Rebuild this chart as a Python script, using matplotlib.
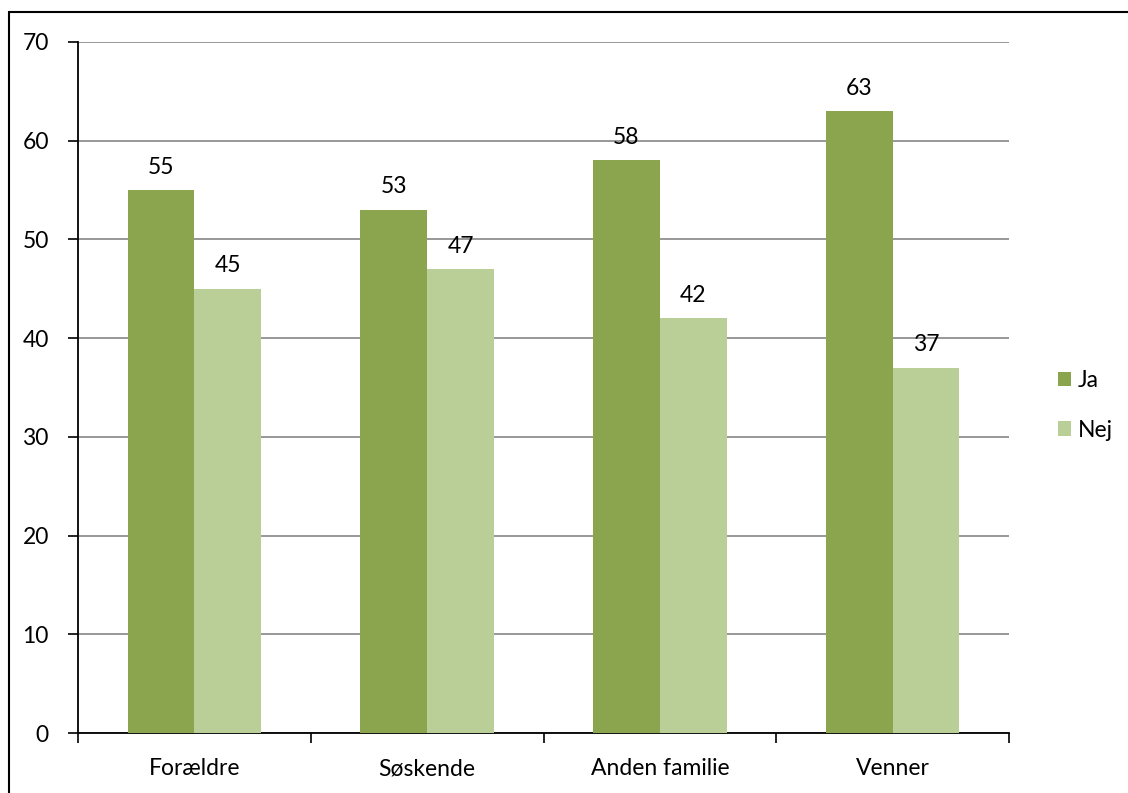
"""
Søjlediagram: Ja/Nej fordelt på relation
"""
import matplotlib.pyplot as plt
import numpy as np
from matplotlib.patches import Rectangle

plt.rcParams['font.family'] = ['Lato', 'DejaVu Sans']

kategorier = ['Forældre', 'Søskende', 'Anden familie', 'Venner']
ja = [55, 53, 58, 63]
nej = [45, 47, 42, 37]
serier = ['Ja', 'Nej']
farver = ['#8BA54E', '#BACF98']

fs = 16.5

fig = plt.figure(figsize=(11.28, 7.93), dpi=100)
ax = fig.add_axes([78 / 1128, 1 - 733 / 793, (1009 - 78) / 1128, (733 - 42) / 793])

x = np.arange(len(kategorier))
w = 0.287
for vals, off, farve, navn in zip([ja, nej], [-w / 2, w / 2], farver, serier):
    bars = ax.bar(x + off, vals, w, color=farve, label=navn, zorder=3)
    for b, v in zip(bars, vals):
        ax.annotate(str(v), (b.get_x() + b.get_width() / 2, v),
                    xytext=(0, 9), textcoords='offset points',
                    ha='center', va='bottom', fontsize=fs)

ax.set_xlim(-0.5, len(kategorier) - 0.5)
ax.set_ylim(0, 70)
ax.set_yticks(range(0, 71, 10))
ax.yaxis.grid(True, color='#868686', linewidth=1.2, zorder=0)

# kategoriakse med tickmarks mellem grupperne
ax.set_xticks(x)
ax.set_xticklabels(kategorier, fontsize=fs)
ax.tick_params(axis='x', length=0, pad=18)
ax.set_xticks(np.arange(-0.5, len(kategorier)), minor=True)
ax.tick_params(axis='x', which='minor', length=7, direction='out', width=1.2)
ax.tick_params(axis='y', length=7, width=1.2, labelsize=fs, pad=14)

for s in ['top', 'right']:
    ax.spines[s].set_visible(False)
for s in ['left', 'bottom']:
    ax.spines[s].set_linewidth(1.3)

ax.legend(loc='center left', bbox_to_anchor=(1.03, 0.474), frameon=False,
          fontsize=fs, handlelength=0.6, handleheight=0.6,
          handletextpad=0.3, labelspacing=1.25)

# ramme om diagramområdet
fig.patches.append(Rectangle((9 / 1128, -0.1), 1.2, 1 - 12 / 793 + 0.1,
                             transform=fig.transFigure, fill=False,
                             edgecolor='black', linewidth=1.5))

fig.savefig('out.png', dpi=100)
